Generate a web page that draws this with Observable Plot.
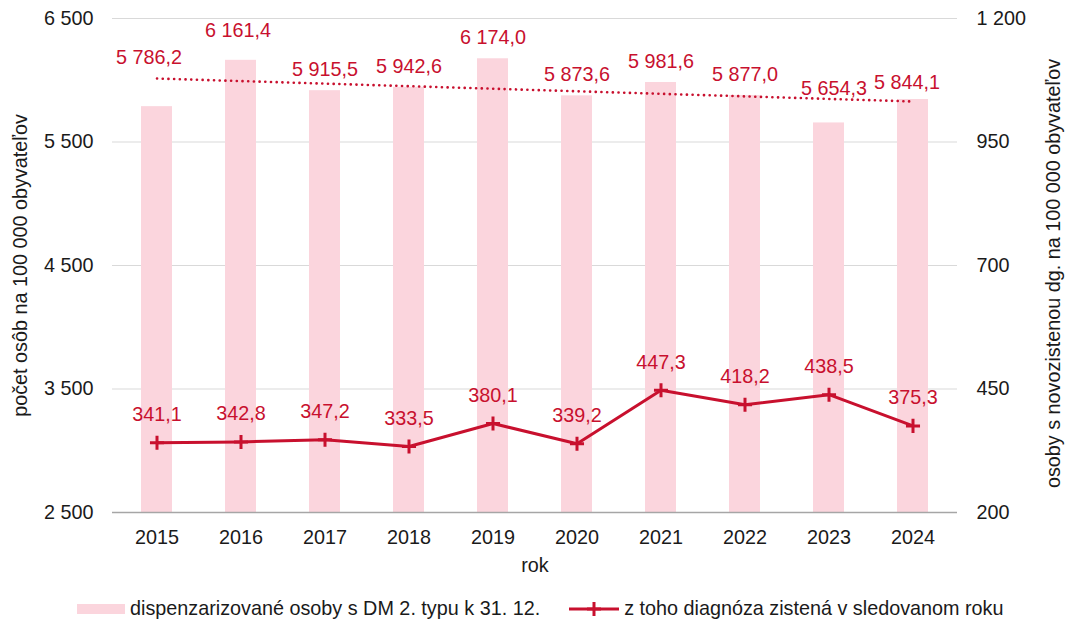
<!DOCTYPE html>
<html>
<head>
<meta charset="utf-8">
<script src="https://cdn.jsdelivr.net/npm/d3@7"></script>
<script src="https://cdn.jsdelivr.net/npm/@observablehq/plot@0.6"></script>
<style>
  html, body { margin: 0; padding: 0; background: #fff; }
  body { width: 1066px; height: 621px; position: relative; overflow: hidden; font-family: "Liberation Sans", Arial, sans-serif; color: #1a1a1a; }
  #legend { position: absolute; left: 77px; top: 597px; display: flex; align-items: center; font-size: 19.8px; white-space: nowrap; }
  .item { display: flex; align-items: center; }
  .sw-bar { width: 48px; height: 10px; background: #fbd5dd; margin-right: 5px; }
  .sw-line { margin-right: 5px; }
</style>
</head>
<body>
<div id="chart"></div>
<div id="legend">
  <div class="item"><div class="sw-bar"></div><span>dispenzarizované osoby s DM 2. typu k 31. 12.</span></div>
  <div class="item" style="margin-left:29px"><svg class="sw-line" width="50" height="16"><line x1="0" y1="8" x2="50" y2="8" stroke="#c8102e" stroke-width="3"/><line x1="25" y1="1" x2="25" y2="15" stroke="#c8102e" stroke-width="3"/><line x1="18" y1="8" x2="32" y2="8" stroke="#c8102e" stroke-width="3"/></svg><span>z toho diagnóza zistená v sledovanom roku</span></div>
</div>
<script>
// ---- data ----
const years = [2015, 2016, 2017, 2018, 2019, 2020, 2021, 2022, 2023, 2024];
const prevalence = [5786.2, 6161.4, 5915.5, 5942.6, 6174.0, 5873.6, 5981.6, 5877.0, 5654.3, 5844.1];
const incidence = [341.1, 342.8, 347.2, 333.5, 380.1, 339.2, 447.3, 418.2, 438.5, 375.3];
const leftTicks = [2500, 3500, 4500, 5500, 6500];
const rightTicks = [200, 450, 700, 950, 1200];

// ---- styling ----
const RED = "#c8102e";
const PINK = "#fbd5dd";
const FS = 19.8;
const labelNudge = {2015: [-8, -49], 2016: [-3, -30], 2023: [5, -34], 2024: [-6, -17]};
const defaultNudge = [0, -21];

const loc = d3.formatLocale({decimal: ",", thousands: " ", grouping: [3], currency: ["", ""]});
const fmt1 = loc.format(",.1f");
const fmt0 = loc.format(",.0f");

// right axis mapped onto left scale
const toLeft = d3.scaleLinear([rightTicks[0], rightTicks[rightTicks.length - 1]], [leftTicks[0], leftTicks[leftTicks.length - 1]]);

const data = years.map((y, i) => ({year: y, prev: prevalence[i], inc: incidence[i]}));

// linear trend of prevalence
const n = years.length;
const mx = d3.mean(d3.range(n));
const my = d3.mean(prevalence);
const slope = d3.sum(d3.range(n), i => (i - mx) * (prevalence[i] - my)) / d3.sum(d3.range(n), i => (i - mx) ** 2);
const trend = years.map((y, i) => ({year: y, v: my + slope * (i - mx)}));

const barLabelMarks = years.map(yr => {
  const [dx, dy] = labelNudge[yr] || defaultNudge;
  return Plot.text(data.filter(d => d.year === yr), {
    x: "year", y: "prev", text: d => fmt1(d.prev), fill: RED, dx, dy, fontSize: FS
  });
});

const chart = Plot.plot({
  width: 1066,
  height: 590,
  marginLeft: 112,
  marginRight: 109,
  marginTop: 18,
  marginBottom: 78,
  style: {fontFamily: '"Liberation Sans", Arial, sans-serif', fontSize: FS + "px", color: "#1a1a1a", background: "#fff"},
  x: {type: "band", domain: years, paddingInner: 0.633, paddingOuter: 0.3165},
  y: {domain: [leftTicks[0], leftTicks[leftTicks.length - 1]]},
  marks: [
    Plot.gridY(leftTicks, {stroke: "#d9d9d9", strokeOpacity: 1, strokeWidth: 1}),
    Plot.barY(data, {x: "year", y1: leftTicks[0], y2: "prev", fill: PINK}),
    Plot.ruleY([leftTicks[0]], {stroke: "#a6a6a6", strokeWidth: 1.5}),
    Plot.line(trend, {x: "year", y: "v", stroke: RED, strokeWidth: 2.6, strokeDasharray: "0.1 5.6", strokeLinecap: "round"}),
    Plot.line(data, {x: "year", y: d => toLeft(d.inc), stroke: RED, strokeWidth: 3}),
    Plot.dot(data, {x: "year", y: d => toLeft(d.inc), symbol: "plus", r: 4.6, stroke: RED, strokeWidth: 3}),
    Plot.text(data, {x: "year", y: d => toLeft(d.inc), text: d => fmt1(d.inc), fill: RED, dy: -28, fontSize: FS}),
    ...barLabelMarks,
    Plot.axisY(leftTicks, {anchor: "left", tickSize: 0, tickPadding: 19, tickFormat: v => fmt0(v), label: null}),
    Plot.axisY(leftTicks, {anchor: "right", tickSize: 0, tickPadding: 19, tickFormat: v => fmt0(toLeft.invert(v)), label: null}),
    Plot.axisX({tickSize: 0, tickPadding: 17, tickFormat: d => String(d), label: null}),
    Plot.text(["počet osôb na 100 000 obyvateľov"], {frameAnchor: "left", dx: -92, rotate: -90, textAnchor: "middle", fontSize: FS, fill: "#1a1a1a"}),
    Plot.text(["osoby s novozistenou dg. na 100 000 obyvateľov"], {frameAnchor: "right", dx: 96, dy: 8, rotate: -90, textAnchor: "middle", fontSize: FS, fill: "#1a1a1a"}),
    Plot.text(["rok"], {frameAnchor: "bottom", dy: 59, fontSize: FS, fill: "#1a1a1a"})
  ]
});
document.getElementById("chart").appendChild(chart);
</script>
</body>
</html>
